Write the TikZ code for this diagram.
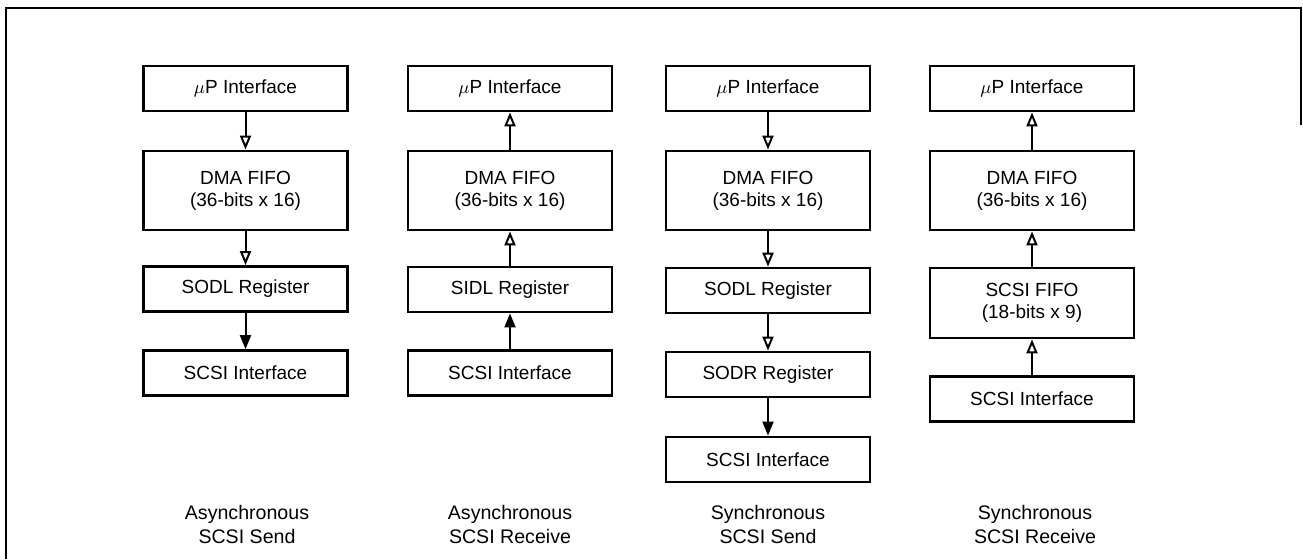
\documentclass[tikz,border=0pt]{standalone}
\usepackage{fontspec}
\setmainfont{Liberation Sans}
\usetikzlibrary{arrows.meta}

\begin{document}
\begin{tikzpicture}[x=0.5pt, y=-0.5pt,
   blk/.style = {draw, line width=1.4pt, minimum width=102pt, minimum height=22.5pt,
                 inner sep=0pt, align=center, font=\fontsize{9.5}{11}\selectfont},
   tall/.style = {blk, minimum height=39.5pt},
   mid/.style = {blk, minimum height=35pt},
   lbl/.style = {align=center, font=\fontsize{9.8}{12}\selectfont},
   hol/.style = {line width=1pt, -{Triangle[open, length=7pt, width=5.5pt, line width=1pt]}},
   ful/.style = {line width=1pt, -{Triangle[length=7pt, width=5.5pt]}}]
   \useasboundingbox (0,0) rectangle (1303,559);
   \draw[line width=1pt] (6,559) -- (6,8) -- (1301,8) -- (1301,125);
   \node[blk]  (up1)   at (245.5,88.5) {$\mu$P Interface};
   \node[tall] (dma1)  at (245.5,190.5) {DMA FIFO\\(36-bits x 16)};
   \node[blk]  (sodl1) at (245.5,289) {SODL Register};
   \node[blk]  (scsi1) at (245.5,373) {SCSI Interface};
   \node[lbl]  (lab1)  at (247,524) {Asynchronous\\SCSI Send};
   \draw[hol] (up1) -- (dma1);
   \draw[hol] (dma1) -- (sodl1);
   \draw[ful] (sodl1) -- (scsi1);
   \node[blk]  (up2)   at (510,88.5) {$\mu$P Interface};
   \node[tall] (dma2)  at (510,190.5) {DMA FIFO\\(36-bits x 16)};
   \node[blk]  (sidl2) at (510,289.5) {SIDL Register};
   \node[blk]  (scsi2) at (510,373) {SCSI Interface};
   \node[lbl]  (lab2)  at (510,524) {Asynchronous\\SCSI Receive};
   \draw[hol] (dma2) -- (up2);
   \draw[hol] (sidl2) -- (dma2);
   \draw[ful] (scsi2) -- (sidl2);
   \node[blk]  (up3)   at (768,88.5) {$\mu$P Interface};
   \node[tall] (dma3)  at (768,190.5) {DMA FIFO\\(36-bits x 16)};
   \node[blk]  (sodl3) at (768,290.5) {SODL Register};
   \node[blk]  (sodr3) at (768,374.5) {SODR Register};
   \node[blk]  (scsi3) at (768,459.5) {SCSI Interface};
   \node[lbl]  (lab3)  at (768,524) {Synchronous\\SCSI Send};
   \draw[hol] (up3) -- (dma3);
   \draw[hol] (dma3) -- (sodl3);
   \draw[hol] (sodl3) -- (sodr3);
   \draw[ful] (sodr3) -- (scsi3);
   \node[blk]  (up4)   at (1032,88.5) {$\mu$P Interface};
   \node[tall] (dma4)  at (1032,190.5) {DMA FIFO\\(36-bits x 16)};
   \node[mid]  (fifo4) at (1032,303) {SCSI FIFO\\(18-bits x 9)};
   \node[blk]  (scsi4) at (1032,399) {SCSI Interface};
   \node[lbl]  (lab4)  at (1035,524) {Synchronous\\SCSI Receive};
   \draw[hol] (dma4) -- (up4);
   \draw[hol] (fifo4) -- (dma4);
   \draw[hol] (scsi4) -- (fifo4);
\end{tikzpicture}
\end{document}
